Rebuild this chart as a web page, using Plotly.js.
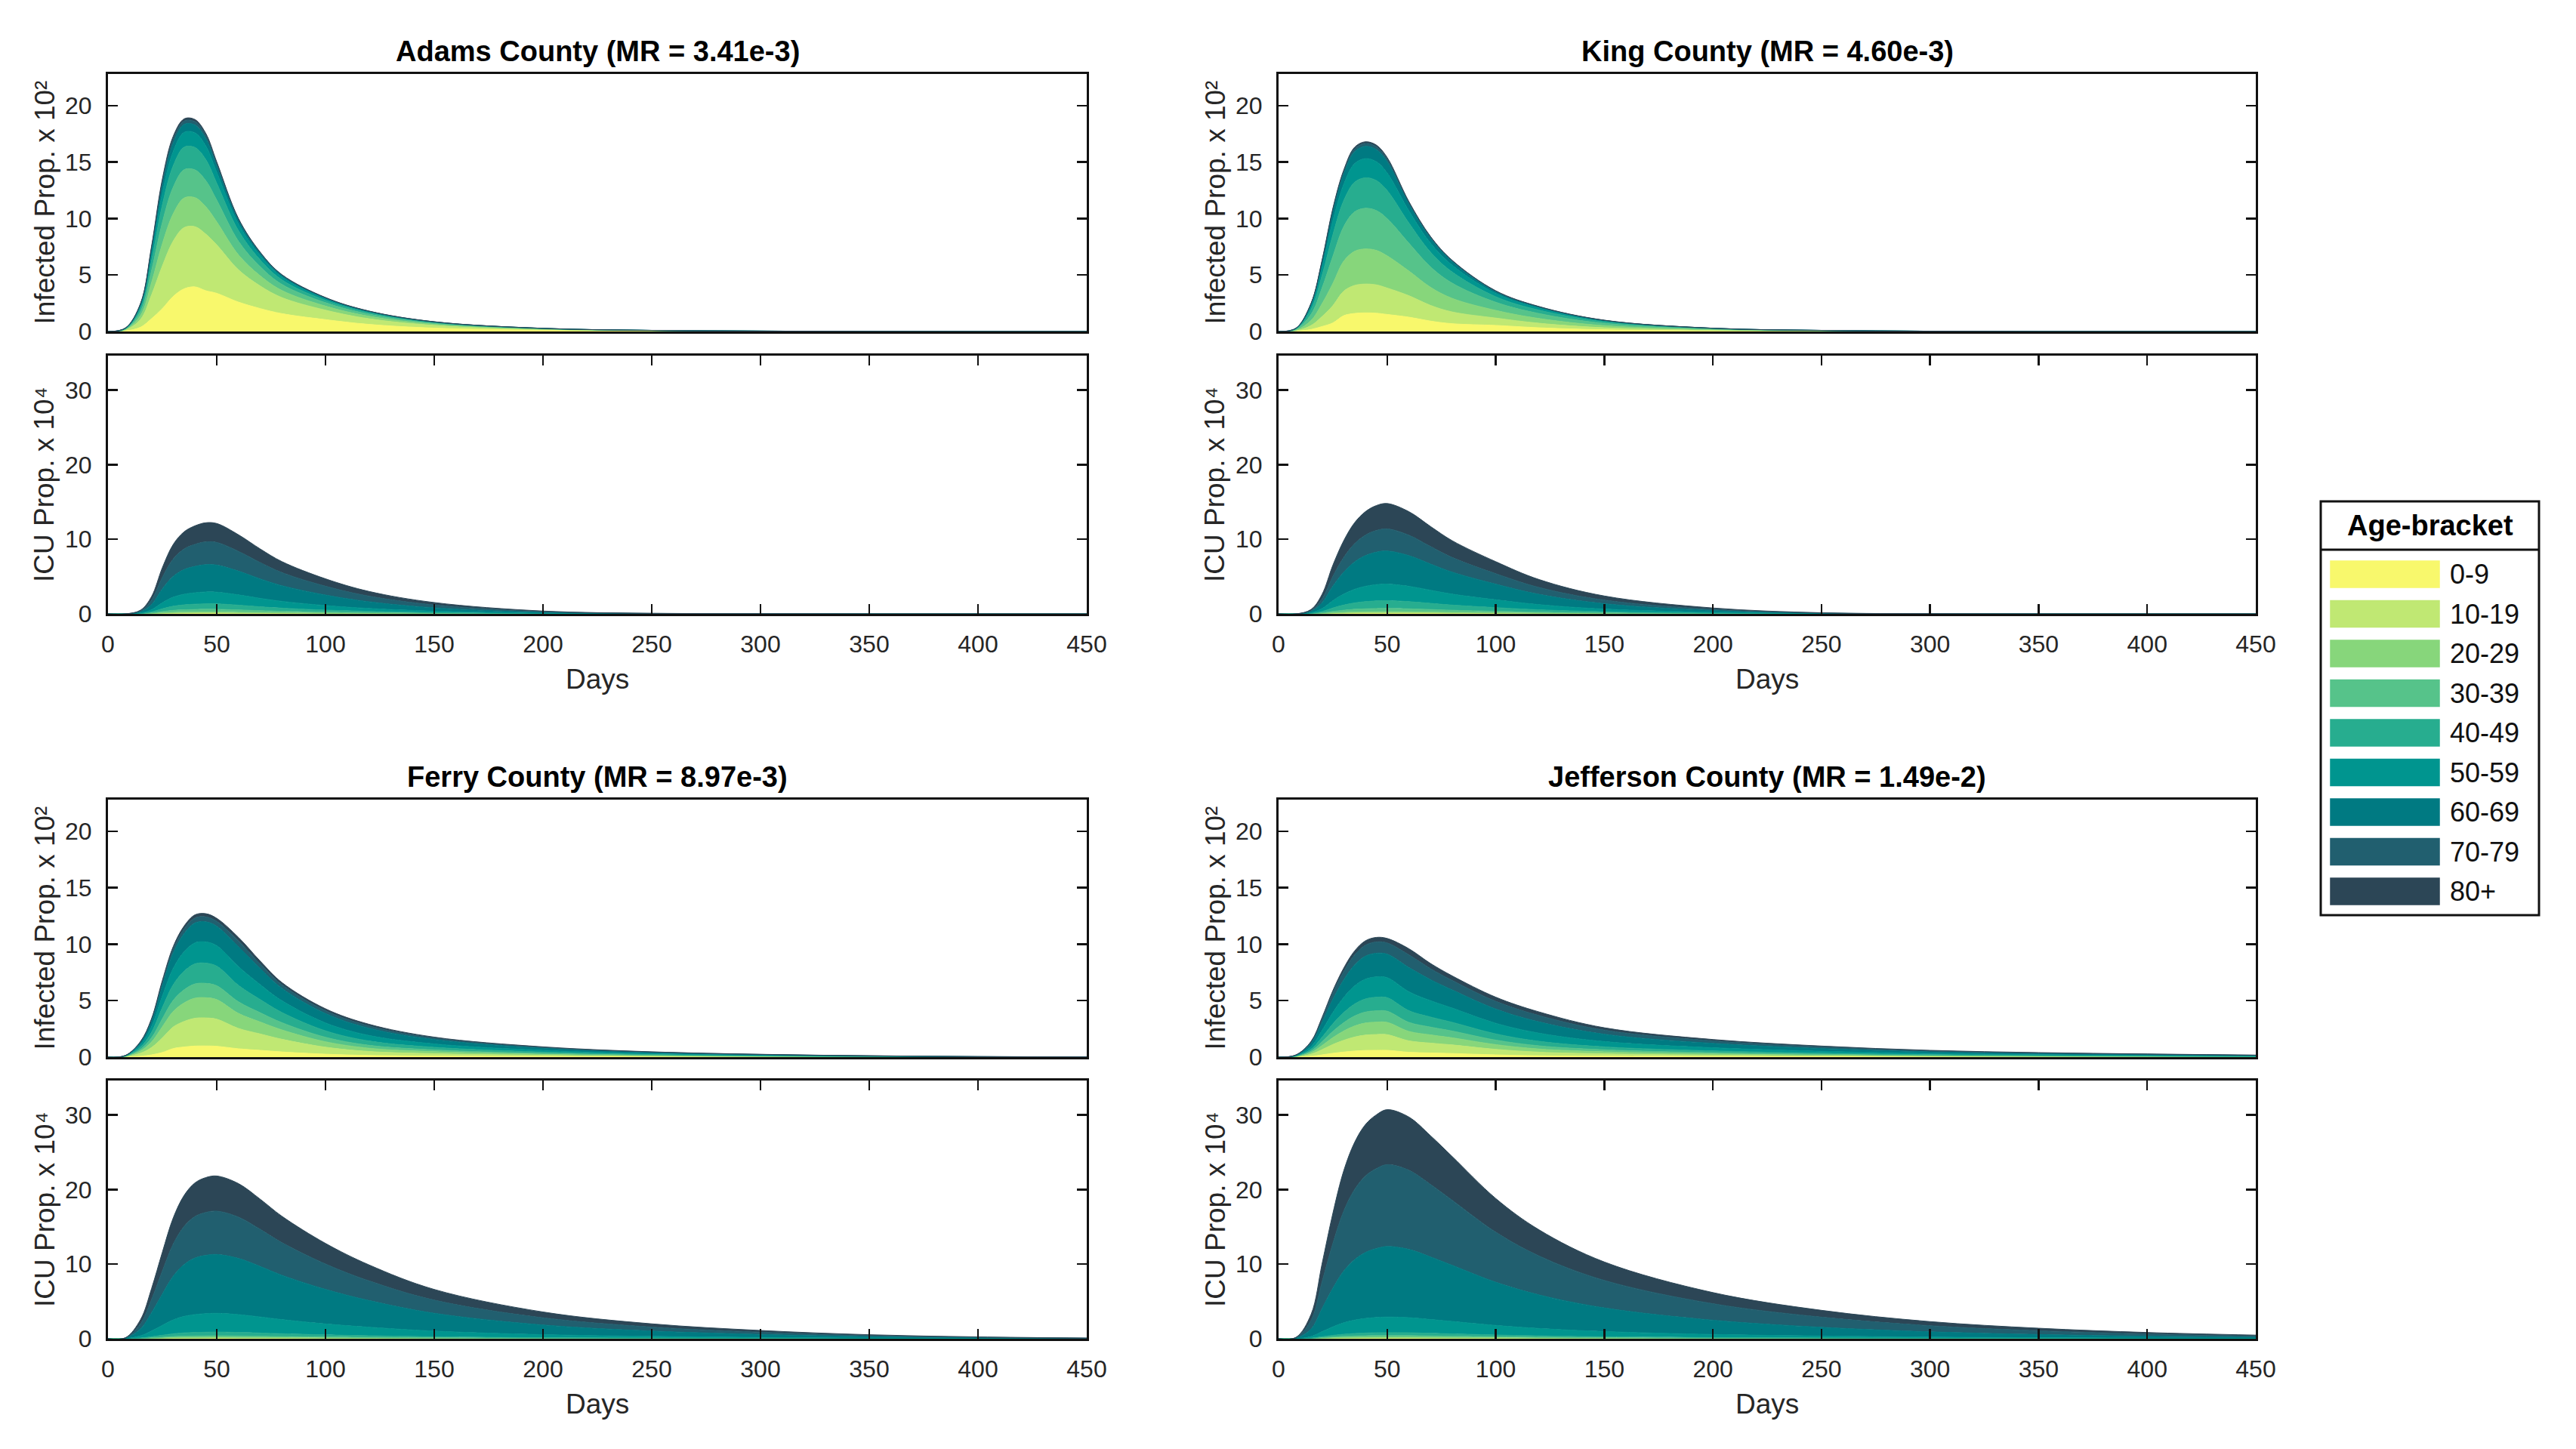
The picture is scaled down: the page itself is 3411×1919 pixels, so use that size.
<!DOCTYPE html>
<html>
<head>
<meta charset="utf-8">
<script src="https://cdn.plot.ly/plotly-3.0.1.min.js"></script>
<style>html,body{margin:0;padding:0;background:#fff;}#chart{width:3411px;height:1919px;}</style>
</head>
<body>
<div id="chart"></div>
<script>
// ---------------- DATA ----------------
const days = [0, 8, 15, 20, 25, 30, 35, 40, 45, 50, 60, 70, 80, 100, 120, 150, 200, 250, 300, 350, 400, 450];
const ageGroups = ["0-9", "10-19", "20-29", "30-39", "40-49", "50-59", "60-69", "70-79", "80+"];
const ageColors = ["#f8f86c", "#c0e873", "#87d67b", "#56c38a", "#27ad8f", "#00958f", "#007a82", "#215f6f", "#2c4656"];
const countyTitles = ["Adams County (MR = 3.41e-3)", "King County (MR = 4.60e-3)", "Ferry County (MR = 8.97e-3)", "Jefferson County (MR = 1.49e-2)"];
const xTicks = [0, 50, 100, 150, 200, 250, 300, 350, 400, 450];
const infTicks = [0, 5, 10, 15, 20];
const icuTicks = [0, 10, 20, 30];
const infLabel = "Infected Prop. x 10\u00B2";
const icuLabel = "ICU Prop. x 10\u2074";

// each row = one day (same order as days); columns = age groups (0-9 ... 80+)
// Infected proportion x 10^2
const adamsInfected = [
  [0,0,0,0,0,0,0,0,0],
  [0.05,0.08,0.04,0.04,0.04,0.02,0.02,0.01,0.01],
  [0.38,0.70,0.36,0.35,0.29,0.20,0.13,0.06,0.04],
  [1.13,2.10,1.09,1.05,0.86,0.59,0.38,0.19,0.13],
  [2.03,3.78,1.96,1.89,1.55,1.05,0.68,0.34,0.23],
  [3.11,4.90,2.42,2.35,1.90,1.26,0.74,0.35,0.26],
  [3.78,5.42,2.62,2.50,2.00,1.31,0.71,0.30,0.19],
  [3.95,5.33,2.57,2.46,1.98,1.30,0.69,0.30,0.19],
  [3.61,5.01,2.42,2.31,1.86,1.21,0.65,0.28,0.18],
  [3.38,4.29,2.04,1.92,1.50,0.98,0.53,0.23,0.15],
  [2.60,2.86,1.32,1.21,0.93,0.60,0.31,0.12,0.05],
  [2.03,2.00,0.90,0.80,0.60,0.39,0.19,0.08,0.03],
  [1.58,1.42,0.63,0.54,0.40,0.25,0.12,0.06,0.03],
  [1.05,0.84,0.36,0.30,0.21,0.14,0.06,0.03,0.02],
  [0.63,0.50,0.22,0.18,0.13,0.08,0.04,0.02,0.01],
  [0.30,0.24,0.10,0.09,0.06,0.04,0.02,0.01,0.00],
  [0.10,0.08,0.03,0.03,0.02,0.01,0.01,0.00,0.00],
  [0.04,0.03,0.01,0.01,0.01,0.00,0.00,0.00,0.00],
  [0.01,0.01,0.01,0.01,0.00,0.00,0.00,0.00,0.00],
  [0.01,0.00,0.00,0.00,0.00,0.00,0.00,0.00,0.00],
  [0,0,0,0,0,0,0,0,0],
  [0,0,0,0,0,0,0,0,0]
];
// ICU proportion x 10^4
const adamsICU = [
  [0,0,0,0,0,0,0,0,0],
  [0,0,0,0,0,0,0,0,0],
  [0.00,0.00,0.01,0.02,0.03,0.07,0.15,0.13,0.10],
  [0.01,0.01,0.03,0.07,0.14,0.30,0.69,0.58,0.48],
  [0.02,0.03,0.07,0.19,0.37,0.81,1.86,1.55,1.30],
  [0.03,0.05,0.11,0.28,0.56,1.21,2.79,2.33,1.95],
  [0.03,0.06,0.13,0.33,0.66,1.43,3.30,2.75,2.31],
  [0.04,0.06,0.14,0.35,0.71,1.53,3.54,2.95,2.48],
  [0.04,0.06,0.15,0.37,0.73,1.59,3.66,3.05,2.56],
  [0.04,0.06,0.15,0.36,0.73,1.57,3.63,3.03,2.54],
  [0.03,0.05,0.13,0.32,0.64,1.38,3.18,2.65,2.22],
  [0.03,0.04,0.10,0.26,0.52,1.13,2.61,2.18,1.83],
  [0.02,0.04,0.08,0.21,0.42,0.91,2.10,1.75,1.47],
  [0.01,0.02,0.06,0.14,0.28,0.61,1.41,1.18,0.99],
  [0.01,0.02,0.04,0.09,0.18,0.39,0.90,0.75,0.63],
  [0.00,0.01,0.02,0.05,0.09,0.20,0.45,0.38,0.32],
  [0.00,0.00,0.00,0.01,0.02,0.05,0.12,0.10,0.08],
  [0.00,0.00,0.00,0.00,0.00,0.01,0.03,0.02,0.02],
  [0.00,0.00,0.00,0.00,0.00,0.00,0.01,0.01,0.00],
  [0,0,0,0,0,0,0,0,0],
  [0,0,0,0,0,0,0,0,0],
  [0,0,0,0,0,0,0,0,0]
];
const kingInfected = [
  [0,0,0,0,0,0,0,0,0],
  [0.02,0.04,0.05,0.07,0.05,0.03,0.02,0.01,0.00],
  [0.18,0.35,0.45,0.55,0.44,0.29,0.19,0.04,0.03],
  [0.44,0.88,1.13,1.39,1.10,0.72,0.47,0.09,0.06],
  [0.76,1.53,1.96,2.40,1.91,1.25,0.82,0.16,0.11],
  [1.40,2.17,2.65,3.06,2.30,1.44,0.93,0.21,0.13],
  [1.60,2.48,3.02,3.49,2.62,1.65,1.06,0.24,0.15],
  [1.65,2.55,3.11,3.60,2.70,1.70,1.09,0.25,0.15],
  [1.62,2.51,3.05,3.53,2.66,1.67,1.07,0.25,0.15],
  [1.51,2.34,2.85,3.30,2.48,1.56,1.00,0.23,0.14],
  [1.27,1.90,2.19,2.47,1.78,1.09,0.60,0.13,0.08],
  [0.92,1.39,1.60,1.81,1.30,0.80,0.44,0.09,0.06],
  [0.69,1.04,1.20,1.35,0.98,0.60,0.33,0.07,0.04],
  [0.54,0.65,0.68,0.72,0.49,0.29,0.15,0.05,0.04],
  [0.33,0.40,0.42,0.44,0.30,0.18,0.09,0.03,0.02],
  [0.15,0.18,0.19,0.20,0.14,0.08,0.04,0.01,0.01],
  [0.05,0.05,0.06,0.06,0.04,0.02,0.01,0.00,0.00],
  [0.02,0.02,0.02,0.02,0.01,0.01,0.00,0.00,0.00],
  [0.01,0.01,0.01,0.00,0.00,0.00,0.00,0.00,0.00],
  [0,0,0,0,0,0,0,0,0],
  [0,0,0,0,0,0,0,0,0],
  [0,0,0,0,0,0,0,0,0]
];
const kingICU = [
  [0,0,0,0,0,0,0,0,0],
  [0,0,0,0,0,0,0,0,0],
  [0.00,0.00,0.01,0.02,0.04,0.09,0.18,0.12,0.14],
  [0.01,0.01,0.03,0.08,0.18,0.39,0.78,0.52,0.60],
  [0.02,0.03,0.08,0.20,0.46,0.98,1.95,1.30,1.50],
  [0.03,0.05,0.12,0.29,0.69,1.47,2.94,1.96,2.25],
  [0.04,0.06,0.15,0.37,0.85,1.83,3.66,2.44,2.81],
  [0.04,0.07,0.16,0.41,0.96,2.06,4.11,2.74,3.15],
  [0.04,0.07,0.17,0.44,1.02,2.18,4.35,2.90,3.34],
  [0.04,0.07,0.18,0.44,1.04,2.22,4.44,2.96,3.40],
  [0.04,0.07,0.16,0.41,0.96,2.06,4.11,2.74,3.15],
  [0.04,0.06,0.14,0.35,0.82,1.76,3.51,2.34,2.69],
  [0.03,0.05,0.12,0.29,0.69,1.47,2.94,1.96,2.25],
  [0.02,0.04,0.08,0.21,0.49,1.05,2.10,1.40,1.61],
  [0.01,0.02,0.06,0.14,0.32,0.69,1.38,0.92,1.06],
  [0.01,0.01,0.03,0.07,0.17,0.36,0.72,0.48,0.55],
  [0.00,0.00,0.01,0.02,0.06,0.12,0.24,0.16,0.18],
  [0.00,0.00,0.00,0.01,0.01,0.02,0.05,0.03,0.03],
  [0.00,0.00,0.00,0.00,0.00,0.00,0.01,0.01,0.01],
  [0,0,0,0,0,0,0,0,0],
  [0,0,0,0,0,0,0,0,0],
  [0,0,0,0,0,0,0,0,0]
];
const ferryInfected = [
  [0,0,0,0,0,0,0,0,0],
  [0.01,0.03,0.02,0.02,0.02,0.02,0.02,0.01,0.00],
  [0.08,0.27,0.20,0.15,0.20,0.21,0.20,0.05,0.04],
  [0.20,0.65,0.49,0.36,0.49,0.51,0.48,0.12,0.10],
  [0.41,1.29,0.99,0.71,0.99,1.02,0.95,0.24,0.20],
  [0.76,1.91,1.38,0.98,1.38,1.45,1.37,0.34,0.22],
  [0.90,2.26,1.64,1.16,1.64,1.72,1.62,0.41,0.26],
  [0.98,2.46,1.78,1.26,1.78,1.86,1.76,0.44,0.28],
  [0.99,2.48,1.79,1.27,1.79,1.88,1.78,0.44,0.28],
  [0.96,2.40,1.73,1.23,1.73,1.82,1.72,0.43,0.27],
  [0.74,1.80,1.33,1.03,1.45,1.66,1.77,0.50,0.32],
  [0.60,1.45,1.06,0.82,1.16,1.33,1.42,0.40,0.26],
  [0.46,1.12,0.83,0.64,0.90,1.04,1.10,0.31,0.20],
  [0.26,0.62,0.48,0.40,0.57,0.70,0.83,0.25,0.17],
  [0.15,0.35,0.29,0.26,0.38,0.49,0.64,0.20,0.15],
  [0.09,0.21,0.18,0.16,0.23,0.30,0.39,0.12,0.09],
  [0.05,0.11,0.09,0.08,0.12,0.15,0.20,0.06,0.05],
  [0.02,0.06,0.05,0.04,0.06,0.08,0.11,0.03,0.02],
  [0.01,0.03,0.03,0.02,0.03,0.04,0.06,0.02,0.01],
  [0.01,0.01,0.01,0.01,0.02,0.02,0.03,0.01,0.00],
  [0.00,0.01,0.00,0.00,0.01,0.01,0.01,0.01,0.00],
  [0.00,0.00,0.00,0.00,0.00,0.01,0.01,0.00,0.00]
];
const ferryICU = [
  [0,0,0,0,0,0,0,0,0],
  [0.00,0.00,0.00,0.00,0.00,0.02,0.05,0.04,0.03],
  [0.00,0.01,0.01,0.02,0.06,0.30,0.94,0.69,0.56],
  [0.01,0.02,0.03,0.06,0.15,0.77,2.43,1.78,1.45],
  [0.01,0.03,0.06,0.10,0.27,1.33,4.20,3.09,2.51],
  [0.02,0.05,0.08,0.15,0.37,1.86,5.86,4.31,3.50],
  [0.02,0.06,0.10,0.17,0.44,2.21,6.95,5.11,4.15],
  [0.02,0.06,0.10,0.19,0.48,2.40,7.57,5.56,4.51],
  [0.02,0.06,0.11,0.19,0.50,2.48,7.82,5.75,4.67],
  [0.02,0.07,0.11,0.20,0.50,2.51,7.89,5.80,4.71],
  [0.02,0.06,0.10,0.19,0.48,2.39,7.53,5.53,4.49],
  [0.02,0.06,0.09,0.17,0.43,2.15,6.77,4.97,4.04],
  [0.02,0.05,0.08,0.15,0.38,1.89,5.94,4.36,3.54],
  [0.01,0.04,0.06,0.12,0.29,1.47,4.63,3.40,2.76],
  [0.01,0.03,0.05,0.09,0.23,1.14,3.58,2.63,2.14],
  [0.01,0.02,0.03,0.06,0.15,0.76,2.39,1.76,1.43],
  [0.00,0.01,0.02,0.03,0.08,0.41,1.30,0.96,0.78],
  [0.00,0.01,0.01,0.02,0.05,0.23,0.72,0.53,0.43],
  [0.00,0.00,0.01,0.01,0.03,0.13,0.40,0.29,0.24],
  [0.00,0.00,0.00,0.00,0.01,0.06,0.20,0.15,0.12],
  [0.00,0.00,0.00,0.00,0.01,0.03,0.09,0.07,0.05],
  [0.00,0.00,0.00,0.00,0.00,0.01,0.04,0.03,0.02]
];
const jeffersonInfected = [
  [0,0,0,0,0,0,0,0,0],
  [0.01,0.03,0.02,0.02,0.02,0.03,0.04,0.02,0.01],
  [0.08,0.18,0.15,0.13,0.16,0.24,0.28,0.13,0.05],
  [0.20,0.46,0.36,0.33,0.40,0.60,0.69,0.33,0.13],
  [0.34,0.78,0.61,0.55,0.67,1.00,1.17,0.55,0.22],
  [0.45,1.04,0.82,0.74,0.89,1.34,1.56,0.74,0.30],
  [0.54,1.24,0.98,0.88,1.06,1.60,1.86,0.88,0.36],
  [0.59,1.36,1.07,0.97,1.16,1.75,2.04,0.97,0.39],
  [0.60,1.40,1.10,1.00,1.20,1.80,2.10,1.00,0.40],
  [0.60,1.39,1.09,0.99,1.19,1.78,2.08,0.99,0.40],
  [0.43,1.01,0.84,0.80,1.03,1.68,2.15,1.12,0.54],
  [0.37,0.87,0.73,0.69,0.89,1.45,1.86,0.97,0.46],
  [0.32,0.76,0.63,0.60,0.77,1.26,1.61,0.84,0.40],
  [0.20,0.49,0.42,0.40,0.55,0.94,1.26,0.68,0.37],
  [0.12,0.32,0.28,0.28,0.40,0.72,1.00,0.56,0.32],
  [0.08,0.21,0.18,0.18,0.26,0.47,0.65,0.36,0.21],
  [0.05,0.12,0.11,0.11,0.16,0.28,0.39,0.22,0.12],
  [0.03,0.08,0.07,0.07,0.10,0.17,0.24,0.14,0.08],
  [0.02,0.05,0.04,0.04,0.06,0.11,0.15,0.08,0.05],
  [0.01,0.03,0.03,0.03,0.04,0.07,0.10,0.06,0.03],
  [0.01,0.02,0.02,0.02,0.03,0.05,0.07,0.04,0.02],
  [0.01,0.01,0.01,0.01,0.02,0.03,0.05,0.03,0.01]
];
const jeffersonICU = [
  [0,0,0,0,0,0,0,0,0],
  [0.00,0.00,0.00,0.00,0.00,0.01,0.06,0.07,0.05],
  [0.00,0.01,0.01,0.02,0.04,0.22,1.02,1.18,0.79],
  [0.01,0.02,0.04,0.07,0.13,0.68,3.08,3.57,2.40],
  [0.02,0.03,0.07,0.12,0.22,1.14,5.17,6.00,4.03],
  [0.02,0.05,0.09,0.16,0.29,1.53,6.93,8.03,5.40],
  [0.03,0.05,0.11,0.18,0.34,1.79,8.10,9.39,6.31],
  [0.03,0.06,0.11,0.20,0.37,1.95,8.84,10.25,6.89],
  [0.03,0.06,0.12,0.21,0.39,2.04,9.24,10.71,7.20],
  [0.03,0.06,0.12,0.21,0.40,2.09,9.46,10.96,7.37],
  [0.03,0.06,0.12,0.21,0.39,2.02,9.15,10.60,7.13],
  [0.03,0.05,0.11,0.19,0.35,1.85,8.38,9.71,6.53],
  [0.02,0.05,0.10,0.17,0.32,1.66,7.52,8.71,5.86],
  [0.02,0.04,0.08,0.13,0.24,1.28,5.79,6.71,4.51],
  [0.01,0.03,0.06,0.10,0.19,0.99,4.50,5.21,3.50],
  [0.01,0.02,0.04,0.07,0.13,0.70,3.17,3.68,2.47],
  [0.01,0.01,0.02,0.04,0.08,0.42,1.91,2.21,1.49],
  [0.00,0.01,0.02,0.03,0.05,0.26,1.17,1.36,0.91],
  [0.00,0.00,0.01,0.02,0.03,0.16,0.71,0.82,0.55],
  [0.00,0.00,0.01,0.01,0.02,0.10,0.43,0.50,0.34],
  [0.00,0.00,0.00,0.01,0.01,0.06,0.26,0.30,0.20],
  [0.00,0.00,0.00,0.00,0.01,0.03,0.15,0.18,0.12]
];

// ---------------- LAYOUT HELPERS ----------------
const W = 3411, H = 1919;
const fx = px => px / W;
const fy = py => 1 - py / H;
const FONT = '"Liberation Sans", Arial, Helvetica, sans-serif';

// panel boxes in pixels
const colX = [[143, 1439], [1693, 2987]];
const rowY = [ [[98, 439], [471, 813]], [[1059, 1400], [1431, 1773]] ];
const countyPos = [[0,0],[1,0],[0,1],[1,1]];
const countyData = [[adamsInfected, adamsICU],[kingInfected, kingICU],[ferryInfected, ferryICU],[jeffersonInfected, jeffersonICU]];

const traces = [];
const layout = {
  width: W, height: H,
  margin: {l:0, r:0, t:0, b:0},
  paper_bgcolor: '#ffffff', plot_bgcolor: '#ffffff',
  showlegend: false,
  font: {family: FONT, size: 32, color: '#262626'},
  annotations: [], shapes: []
};

let axN = 0;
countyData.forEach((pair, c) => {
  const [col, row] = countyPos[c];
  pair.forEach((table, k) => {
    axN += 1;
    const xName = axN === 1 ? 'xaxis' : 'xaxis' + axN;
    const yName = axN === 1 ? 'yaxis' : 'yaxis' + axN;
    const xRef = axN === 1 ? 'x' : 'x' + axN;
    const yRef = axN === 1 ? 'y' : 'y' + axN;
    const isICU = k === 1;
    const [x0, x1] = colX[col];
    const [yt, yb] = rowY[row][k];
    layout[xName] = {
      domain: [fx(x0), fx(x1)], anchor: yRef, range: [0, 450],
      tickvals: xTicks,
      ticks: isICU ? 'inside' : '', ticklen: 13, tickwidth: 2.5, tickcolor: '#111',
      showticklabels: isICU, tickfont: {family: FONT, size: 32, color: '#262626'},
      ticklabelstandoff: 10,
      showline: true, linewidth: 3, linecolor: '#111', mirror: isICU ? 'ticks' : true,
      showgrid: false, zeroline: false, fixedrange: true
    };
    layout[yName] = {
      domain: [fy(yb), fy(yt)], anchor: xRef,
      range: isICU ? [0, 34.6] : [0, 22.8],
      tickvals: isICU ? icuTicks : infTicks,
      ticks: 'inside', ticklen: 13, tickwidth: 2.5, tickcolor: '#111',
      tickfont: {family: FONT, size: 32, color: '#262626'},
      ticklabelstandoff: 12,
      showline: true, linewidth: 3, linecolor: '#111', mirror: 'ticks',
      showgrid: false, zeroline: false, fixedrange: true
    };
    ageGroups.forEach((g, gi) => {
      traces.push({
        type: 'scatter', mode: 'lines',
        x: days, y: table.map(r => r[gi]),
        xaxis: xRef, yaxis: yRef,
        stackgroup: 'p' + axN, name: g,
        line: {color: ageColors[gi], width: 1, shape: 'spline', smoothing: 1},
        fillcolor: ageColors[gi], hoverinfo: 'skip', showlegend: false
      });
    });
    layout.annotations.push({
      xref: 'paper', yref: 'paper', x: fx(x0 - 84), y: fy((yt + yb) / 2),
      xanchor: 'center', yanchor: 'middle', textangle: -90, showarrow: false,
      text: isICU ? icuLabel : infLabel,
      font: {family: FONT, size: 37, color: '#262626'}
    });
    if (isICU) {
      layout.annotations.push({
        xref: 'paper', yref: 'paper', x: fx((x0 + x1) / 2), y: fy(yb + 86),
        xanchor: 'center', yanchor: 'middle', showarrow: false, text: 'Days',
        font: {family: FONT, size: 37, color: '#262626'}
      });
    } else {
      layout.annotations.push({
        xref: 'paper', yref: 'paper', x: fx((x0 + x1) / 2), y: fy(yt - 30),
        xanchor: 'center', yanchor: 'middle', showarrow: false,
        text: '<b>' + countyTitles[c] + '</b>',
        font: {family: FONT, size: 38, color: '#000000'}
      });
    }
  });
});

// ---------------- LEGEND (Age-bracket box) ----------------
const lg = {x0: 3073, x1: 3362, y0: 664, y1: 1212, sep: 728, swX0: 3086, swX1: 3230, first: 760.5, step: 52.5, swH: 35, txtX: 3242};
layout.shapes.push({type: 'rect', xref: 'paper', yref: 'paper', x0: fx(lg.x0), x1: fx(lg.x1), y0: fy(lg.y1), y1: fy(lg.y0),
  line: {color: '#111', width: 3}, fillcolor: '#ffffff', layer: 'below'});
layout.shapes.push({type: 'line', xref: 'paper', yref: 'paper', x0: fx(lg.x0), x1: fx(lg.x1), y0: fy(lg.sep), y1: fy(lg.sep),
  line: {color: '#111', width: 3}});
layout.annotations.push({xref: 'paper', yref: 'paper', x: fx((lg.x0 + lg.x1) / 2), y: fy((lg.y0 + lg.sep) / 2),
  xanchor: 'center', yanchor: 'middle', showarrow: false, text: '<b>Age-bracket</b>',
  font: {family: FONT, size: 38, color: '#000'}});
ageGroups.forEach((g, gi) => {
  const cy = lg.first + gi * lg.step;
  layout.shapes.push({type: 'rect', xref: 'paper', yref: 'paper', x0: fx(lg.swX0), x1: fx(lg.swX1),
    y0: fy(cy + lg.swH / 2), y1: fy(cy - lg.swH / 2), line: {color: ageColors[gi], width: 1.5}, fillcolor: ageColors[gi]});
  layout.annotations.push({xref: 'paper', yref: 'paper', x: fx(lg.txtX), y: fy(cy), xanchor: 'left', yanchor: 'middle',
    showarrow: false, text: g, font: {family: FONT, size: 36, color: '#111'}});
});

Plotly.newPlot('chart', traces, layout, {staticPlot: true, displayModeBar: false});
</script>
</body>
</html>
